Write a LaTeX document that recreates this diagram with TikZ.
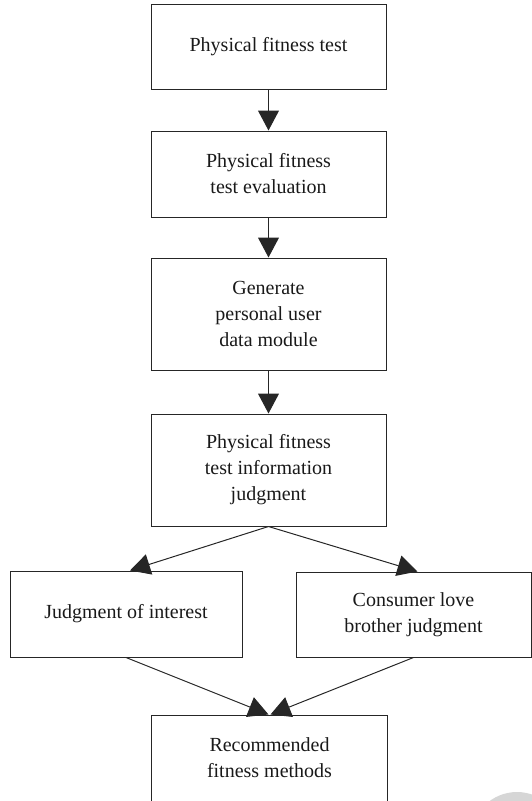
\documentclass[tikz,border=0pt]{standalone}
\usepackage{fontspec}
\setmainfont{Liberation Serif}
\usetikzlibrary{arrows.meta}
\begin{document}
\begin{tikzpicture}[x=1pt,y=-1pt,
  box/.style={draw=black!85,line width=1pt,inner sep=0pt,align=center,
    font=\fontsize{20}{26}\selectfont,text=black!90},
  conn/.style={draw=black!85,line width=1pt,-{Triangle[length=20pt,width=21pt]}}]
\useasboundingbox (0,0) rectangle (532,801);
\begin{scope}
\clip (0,0) rectangle (532,801);
\fill[black!16] (517,838) circle (46);
\end{scope}
\node[box,minimum width=235pt,minimum height=85pt] (b1) at (268.5,46.5) {Physical fitness test};
\node[box,minimum width=235pt,minimum height=86pt] (b2) at (268.5,174) {Physical fitness\\test evaluation};
\node[box,minimum width=235pt,minimum height=112pt] (b3) at (268.5,314) {Generate\\personal user\\data module};
\node[box,minimum width=235pt,minimum height=112pt] (b4) at (268.5,470) {Physical fitness\\test information\\judgment};
\node[box,minimum width=232pt,minimum height=86pt] (b5) at (126,614) {Judgment of interest};
\node[box,minimum width=235pt,minimum height=85pt] (b6) at (413.5,614.5) {Consumer love\\brother judgment};
\node[box,minimum width=236pt,minimum height=86pt] (b7) at (269.5,758) {Recommended\\fitness methods};
\draw[conn] (b1) -- (b2);
\draw[conn] (b2) -- (b3);
\draw[conn] (b3) -- (b4);
\draw[conn] (b4.south) -- ([xshift=4pt]b5.north);
\draw[conn] (b4.south) -- ([xshift=4pt]b6.north);
\draw[conn] (b5.south) -- ([xshift=-1pt]b7.north);
\draw[conn] (b6.south) -- ([xshift=1pt]b7.north);
\end{tikzpicture}
\end{document}
